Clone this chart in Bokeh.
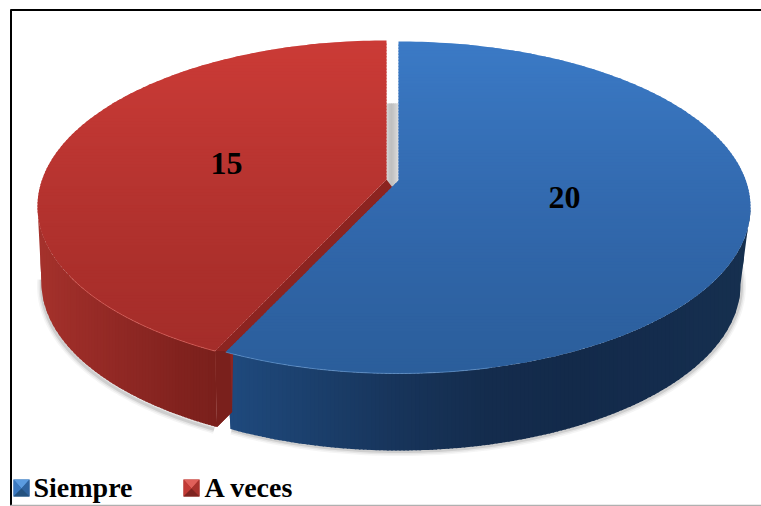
import numpy as np
from bokeh.plotting import figure
from bokeh.models import Range1d
from bokeh.embed import file_html
from bokeh.resources import INLINE
from bokeh.core.properties import value

# ---- chart values ----
categories = ["Siempre", "A veces"]
values = [20, 15]
label_xy = [(564, 197), (226, 163)]
legend_x = [33, 204]
swatch_x = [13, 183]

# ---- colour stops ----
blue_top_grad = ["#3b7ac6", "#3671b9", "#3269ae", "#2e63a4", "#2b5e9b"]
red_top_grad = ["#cb3b36", "#c03733", "#b5332f", "#ab2f2b", "#a42d2a"]
blue_wall_grad = ["#1f4a7e", "#1b3f6c", "#17345a", "#142c4d", "#132a4a", "#142c4d", "#16304f"]
red_wall_grad = ["#a5322c", "#9c2d28", "#932925", "#8a2622", "#81221e", "#7a201c"]

# ---- 3-D pie geometry ----
BLUE_C, RED_C = 398.0, 386.0
TOP_RX_B, TOP_RX_R, TOP_RY = 352.0, 349.0, 166.0
BOT_RX_B, BOT_RX_R = 342.0, 345.0
TOP_CY, BOT_CY = 207.0, 284.0

frac = values[0] / sum(values)
a = 2 * np.pi * frac
t_end = a - np.radians(8.5) * np.sin(a)   # perspective warp of the slice boundary


def ell(cx, cy, rx, ry, t):
    return np.column_stack([cx + rx * np.sin(t), cy - ry * np.cos(t)])


def hex2rgb(h):
    return np.array([int(h[i:i + 2], 16) for i in (1, 3, 5)], float)


def ramp(stops, f):
    f = min(max(f, 0), 1) * (len(stops) - 1)
    i = min(int(f), len(stops) - 2)
    c = hex2rgb(stops[i]) * (1 - (f - i)) + hex2rgb(stops[i + 1]) * (f - i)
    return "#%02x%02x%02x" % tuple(int(round(v)) for v in c)


def clip(poly, axis, lim, keep_less):
    out = []
    n = len(poly)
    for i in range(n):
        p_, q = poly[i], poly[(i + 1) % n]
        ip = (p_[axis] <= lim) if keep_less else (p_[axis] >= lim)
        iq = (q[axis] <= lim) if keep_less else (q[axis] >= lim)
        if ip:
            out.append(p_)
        if ip != iq:
            u = (lim - p_[axis]) / (q[axis] - p_[axis])
            out.append(p_ + u * (q - p_))
    return np.array(out) if out else np.empty((0, 2))


def bands(poly, axis, stops, n):
    lo, hi = poly[:, axis].min(), poly[:, axis].max()
    xs, ys, cs = [], [], []
    step = (hi - lo) / n
    for k in range(n):
        c = clip(poly, axis, lo + k * step, False)
        if len(c):
            c = clip(c, axis, lo + (k + 1) * step + 1.5, True)
        if len(c) > 2:
            xs.append(c[:, 0].tolist())
            ys.append(c[:, 1].tolist())
            cs.append(ramp(stops, (k + 0.5) / n))
    return xs, ys, cs


p = figure(width=761, height=506, x_range=Range1d(0, 761), y_range=Range1d(506, 0),
           output_backend="svg", toolbar_location=None, min_border=0)
p.axis.visible = False
p.grid.visible = False
p.outline_line_color = None
p.background_fill_color = "white"
p.border_fill_color = "white"


def draw(poly, axis, stops, n):
    x, y, c = bands(poly, axis, stops, n)
    p.patches(x, y, fill_color=c, line_color=None)


# frame
p.segment([10.5], [9], [10.5], [505], line_color="black", line_width=2)
p.segment([10], [9.5], [761], [9.5], line_color="black", line_width=2)
p.segment([10], [505], [761], [505], line_color="#b0b0b0", line_width=1.5)

# soft shadow below the walls
ts = np.linspace(np.radians(80), t_end, 80)
tr = np.linspace(t_end + 0.01, np.radians(272), 60)
sb = ell(BLUE_C, BOT_CY, BOT_RX_B, TOP_RY, ts)
sr = ell(RED_C, BOT_CY, BOT_RX_R, TOP_RY, tr)
for w, al in [(9, 0.05), (6, 0.08), (3, 0.14)]:
    p.line(sb[:, 0] + 1, sb[:, 1] + 1, line_color="#404040", line_width=w, line_alpha=al)
    p.line(sr[:, 0], sr[:, 1] + 1, line_color="#404040", line_width=w, line_alpha=al)

# grey gap behind the exploded slices
apex_b = np.array([[BLUE_C, 180.0]])
apex_r = np.array([[RED_C, 179.0]])
gap = np.array([[RED_C, 103.0], [BLUE_C, 103.0], [BLUE_C, 183.0], [RED_C, 195.0]])
draw(gap, 0, ["#d8d8d8", "#bdbdbd", "#c9c9c9", "#e0e0e0"], 6)

# blue wall
t_wall = np.linspace(np.radians(90), t_end, 140)
blue_wall = np.vstack([ell(BLUE_C, TOP_CY, TOP_RX_B, TOP_RY, t_wall),
                       ell(BLUE_C, BOT_CY, BOT_RX_B, TOP_RY, t_wall)[::-1]])
draw(blue_wall, 0, blue_wall_grad, 130)

# red wall
t_rw = np.linspace(t_end, np.radians(270), 70)
red_wall = np.vstack([ell(RED_C, TOP_CY - 1, TOP_RX_R, TOP_RY, t_rw),
                      ell(RED_C, BOT_CY - 2, BOT_RX_R, TOP_RY, t_rw)[::-1]])
draw(red_wall, 0, red_wall_grad, 60)

# red cut face (its inner edge runs under the blue top face)
red_end_top = ell(RED_C, TOP_CY - 1, TOP_RX_R, TOP_RY, np.array([t_end]))[0]
red_end_bot = ell(RED_C, BOT_CY - 2, BOT_RX_R, TOP_RY, np.array([t_end]))[0]
cut = np.array([apex_r[0], red_end_top, red_end_bot,
                red_end_bot + [15, -15], red_end_top + [18, 0], apex_r[0] + [6, 8]])
p.patch(cut[:, 0], cut[:, 1], fill_color="#8c2420", line_color=None)
front = np.array([red_end_top, red_end_bot, red_end_bot + [15, -15], red_end_top + [15, 0]])
p.patch(front[:, 0], front[:, 1], fill_color="#7a201c", line_color=None)

# top faces
t_b = np.linspace(0, t_end, 220)
blue_top = np.vstack([apex_b, ell(BLUE_C, TOP_CY, TOP_RX_B, TOP_RY, t_b)])
draw(blue_top, 1, blue_top_grad, 110)

t_r = np.linspace(t_end, 2 * np.pi, 160)
red_top = np.vstack([apex_r, ell(RED_C, TOP_CY - 1, TOP_RX_R, TOP_RY, t_r)])
draw(red_top, 1, red_top_grad, 100)

# rim highlights on the front edges
rb = ell(BLUE_C, TOP_CY, TOP_RX_B, TOP_RY, np.linspace(t_end, np.radians(165), 40))
p.line(rb[:, 0], rb[:, 1], line_color="#5f93cc", line_width=1, line_alpha=0.7)
rr = ell(RED_C, TOP_CY - 1, TOP_RX_R, TOP_RY, np.linspace(t_end, np.radians(245), 30))
p.line(rr[:, 0], rr[:, 1], line_color="#d9605a", line_width=1, line_alpha=0.7)

# data labels
p.text([q[0] for q in label_xy], [q[1] for q in label_xy], text=[str(v) for v in values],
       text_font=value("Liberation Serif"), text_font_style="bold", text_font_size="32px",
       text_color="black", text_align="center", text_baseline="middle")

# legend
sw_cols = [("#5b9be0", "#3a78c0", "#2f639f", "#24527f"), ("#e0605a", "#c23a35", "#a8322d", "#7f2420")]
for sx, cols in zip(swatch_x, sw_cols):
    x0, x1, y0, y1 = sx, sx + 16, 479, 496
    xm, ym = (x0 + x1) / 2, y0 + 9
    p.patch([x0, x1, x1, x0], [y0, y0, y1, y1], fill_color=cols[2], line_color=None)
    p.patch([x0, x1, xm], [y0, y0, ym], fill_color=cols[0], line_color=None)
    p.patch([x0, xm, x0], [y0, ym, y1], fill_color=cols[1], line_color=None)
    p.patch([x1, xm, x1], [y0, ym, y1], fill_color=cols[2], line_color=None)
    p.patch([x0, x1, xm], [y1, y1, ym], fill_color=cols[3], line_color=None)
p.text(legend_x, [487, 487], text=categories, text_font=value("Liberation Serif"),
       text_font_style="bold", text_font_size="28px", text_color="black",
       text_align="left", text_baseline="middle")

open("out.html", "w").write(file_html(p, INLINE))
